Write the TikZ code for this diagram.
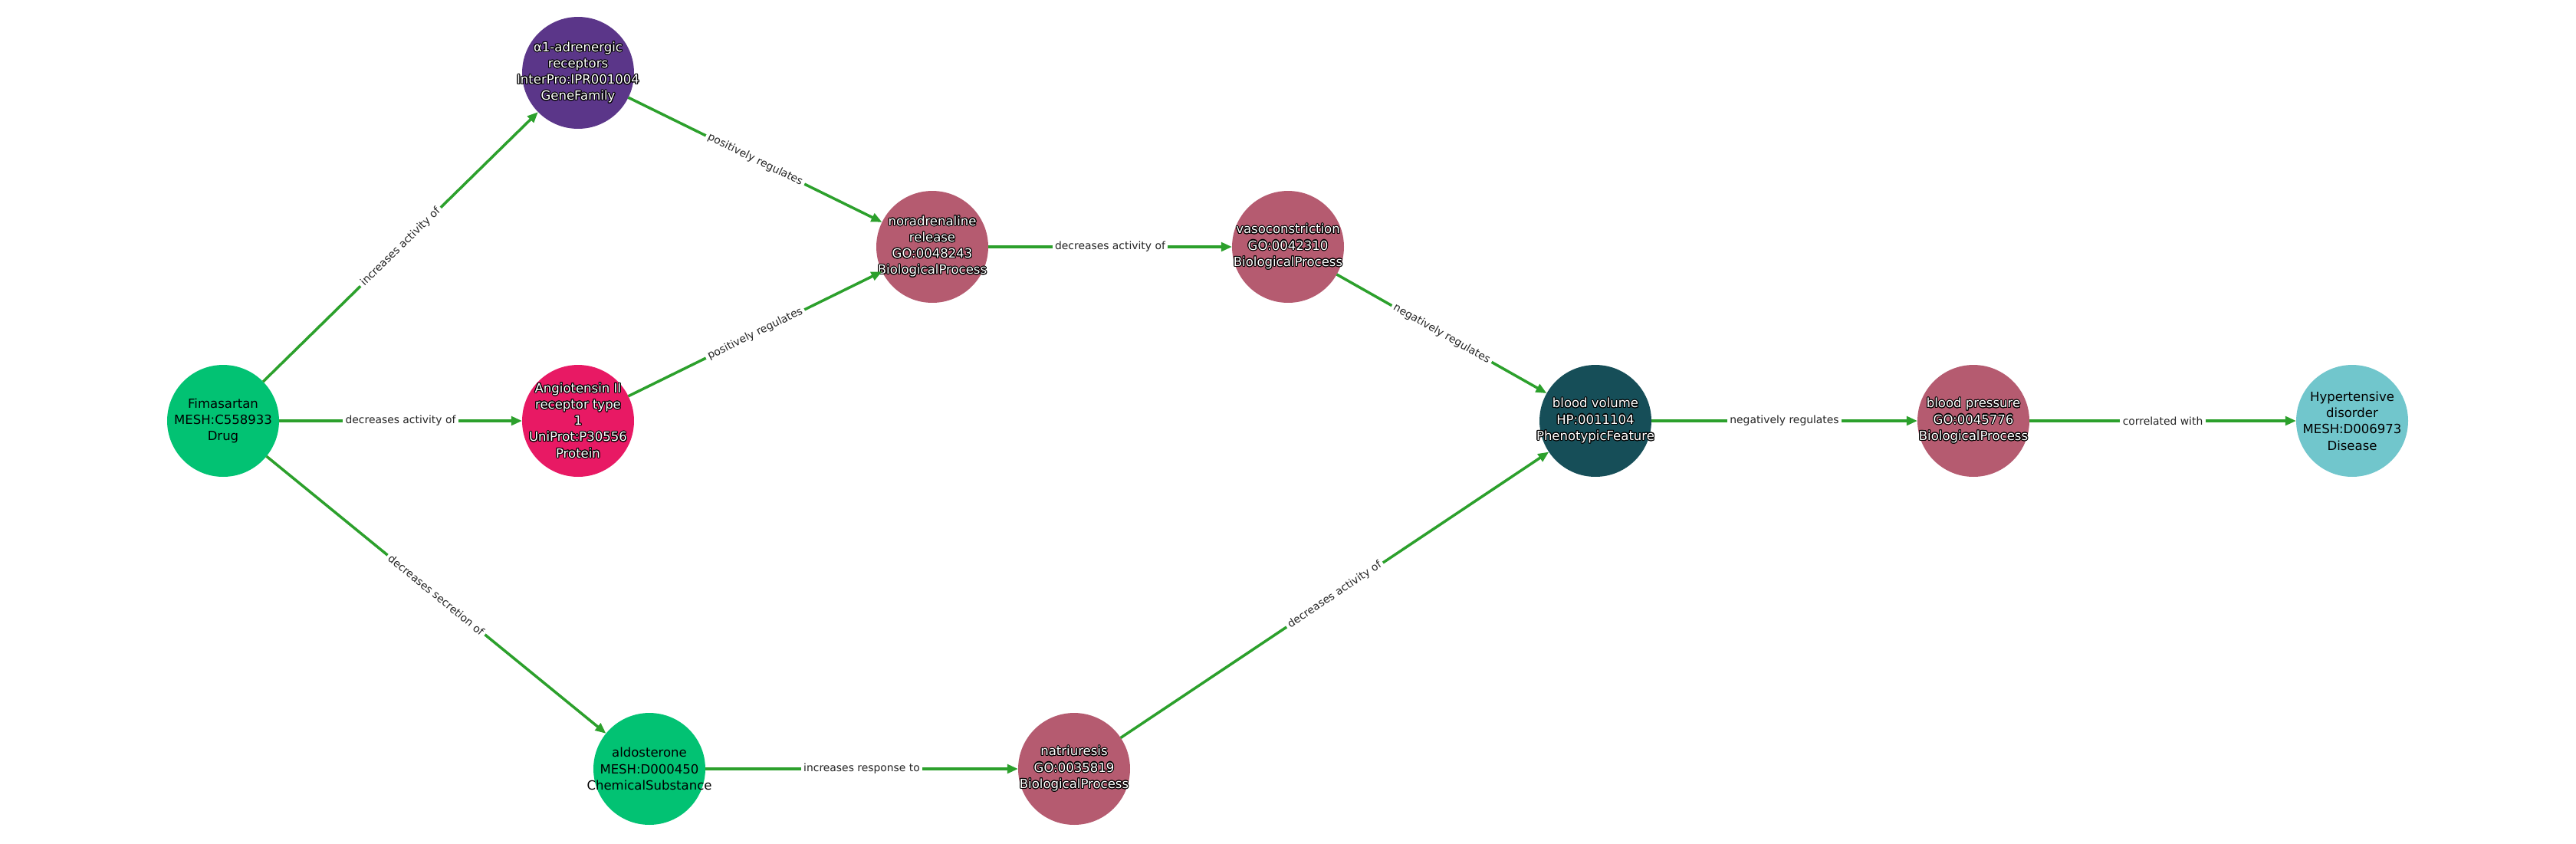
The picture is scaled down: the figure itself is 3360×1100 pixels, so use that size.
\documentclass[tikz,border=0pt]{standalone}
\usepackage{fontspec}
\setmainfont{DejaVu Sans}
\usepackage{contour}
\contourlength{0.6pt}
\usetikzlibrary{arrows.meta}
\definecolor{drugcol}{RGB}{2,194,115}
\definecolor{famcol}{RGB}{91,54,137}
\definecolor{protcol}{RGB}{232,25,100}
\definecolor{biocol}{RGB}{181,91,112}
\definecolor{phencol}{RGB}{22,78,88}
\definecolor{discol}{RGB}{113,198,204}
\definecolor{edgecol}{RGB}{44,160,44}
\newcommand{\outl}[1]{\contour{black}{#1}}

\begin{document}
\begin{tikzpicture}[x=0.02cm, y=-0.02cm,
    ent/.style={circle, inner sep=0pt, outer sep=0pt, minimum size=2.92cm},
    wtxt/.style={text=white, align=center, font=\fontsize{9.4}{12.1}\selectfont},
    btxt/.style={text=black, align=center, font=\fontsize{9.4}{12.1}\selectfont},
    rel/.style={draw=edgecol, line width=2pt, -{Triangle[length=8pt, width=6.5pt]}},
    lbl/.style={midway, sloped, fill=white, inner sep=2pt, text=black!85, font=\fontsize{7.9}{9}\selectfont}]
    \useasboundingbox (0,0) rectangle (3360,1100);

    \node[ent, fill=drugcol, label={[btxt]center:{Fimasartan\\MESH:C558933\\Drug}}] (fima) at (291,549) {};
    \node[ent, fill=famcol, label={[wtxt]center:{\outl{α1-adrenergic}\\\outl{receptors}\\\outl{InterPro:IPR001004}\\\outl{GeneFamily}}}] (alpha) at (754,95) {};
    \node[ent, fill=protcol, label={[wtxt]center:{\outl{Angiotensin II}\\\outl{receptor type}\\\outl{1}\\\outl{UniProt:P30556}\\\outl{Protein}}}] (agtr) at (754,549) {};
    \node[ent, fill=drugcol, label={[btxt]center:{aldosterone\\MESH:D000450\\ChemicalSubstance}}] (aldo) at (847,1003) {};
    \node[ent, fill=biocol, label={[wtxt]center:{\outl{noradrenaline}\\\outl{release}\\\outl{GO:0048243}\\\outl{BiologicalProcess}}}] (nora) at (1216,322) {};
    \node[ent, fill=biocol, label={[wtxt]center:{\outl{vasoconstriction}\\\outl{GO:0042310}\\\outl{BiologicalProcess}}}] (vaso) at (1680,322) {};
    \node[ent, fill=biocol, label={[wtxt]center:{\outl{natriuresis}\\\outl{GO:0035819}\\\outl{BiologicalProcess}}}] (natr) at (1401,1003) {};
    \node[ent, fill=phencol, label={[wtxt]center:{\outl{blood volume}\\\outl{HP:0011104}\\\outl{PhenotypicFeature}}}] (bvol) at (2081,549) {};
    \node[ent, fill=biocol, label={[wtxt]center:{\outl{blood pressure}\\\outl{GO:0045776}\\\outl{BiologicalProcess}}}] (bpres) at (2574,549) {};
    \node[ent, fill=discol, label={[btxt]center:{Hypertensive\\disorder\\MESH:D006973\\Disease}}] (hyper) at (3068,549) {};

    \draw[rel] (fima) -- node[lbl] {increases activity of} (alpha);
    \draw[rel] (fima) -- node[lbl] {decreases activity of} (agtr);
    \draw[rel] (fima) -- node[lbl] {decreases secretion of} (aldo);
    \draw[rel] (alpha) -- node[lbl] {positively regulates} (nora);
    \draw[rel] (agtr) -- node[lbl] {positively regulates} (nora);
    \draw[rel] (nora) -- node[lbl] {decreases activity of} (vaso);
    \draw[rel] (vaso) -- node[lbl] {negatively regulates} (bvol);
    \draw[rel] (aldo) -- node[lbl] {increases response to} (natr);
    \draw[rel] (natr) -- node[lbl] {decreases activity of} (bvol);
    \draw[rel] (bvol) -- node[lbl] {negatively regulates} (bpres);
    \draw[rel] (bpres) -- node[lbl] {correlated with} (hyper);
\end{tikzpicture}
\end{document}
